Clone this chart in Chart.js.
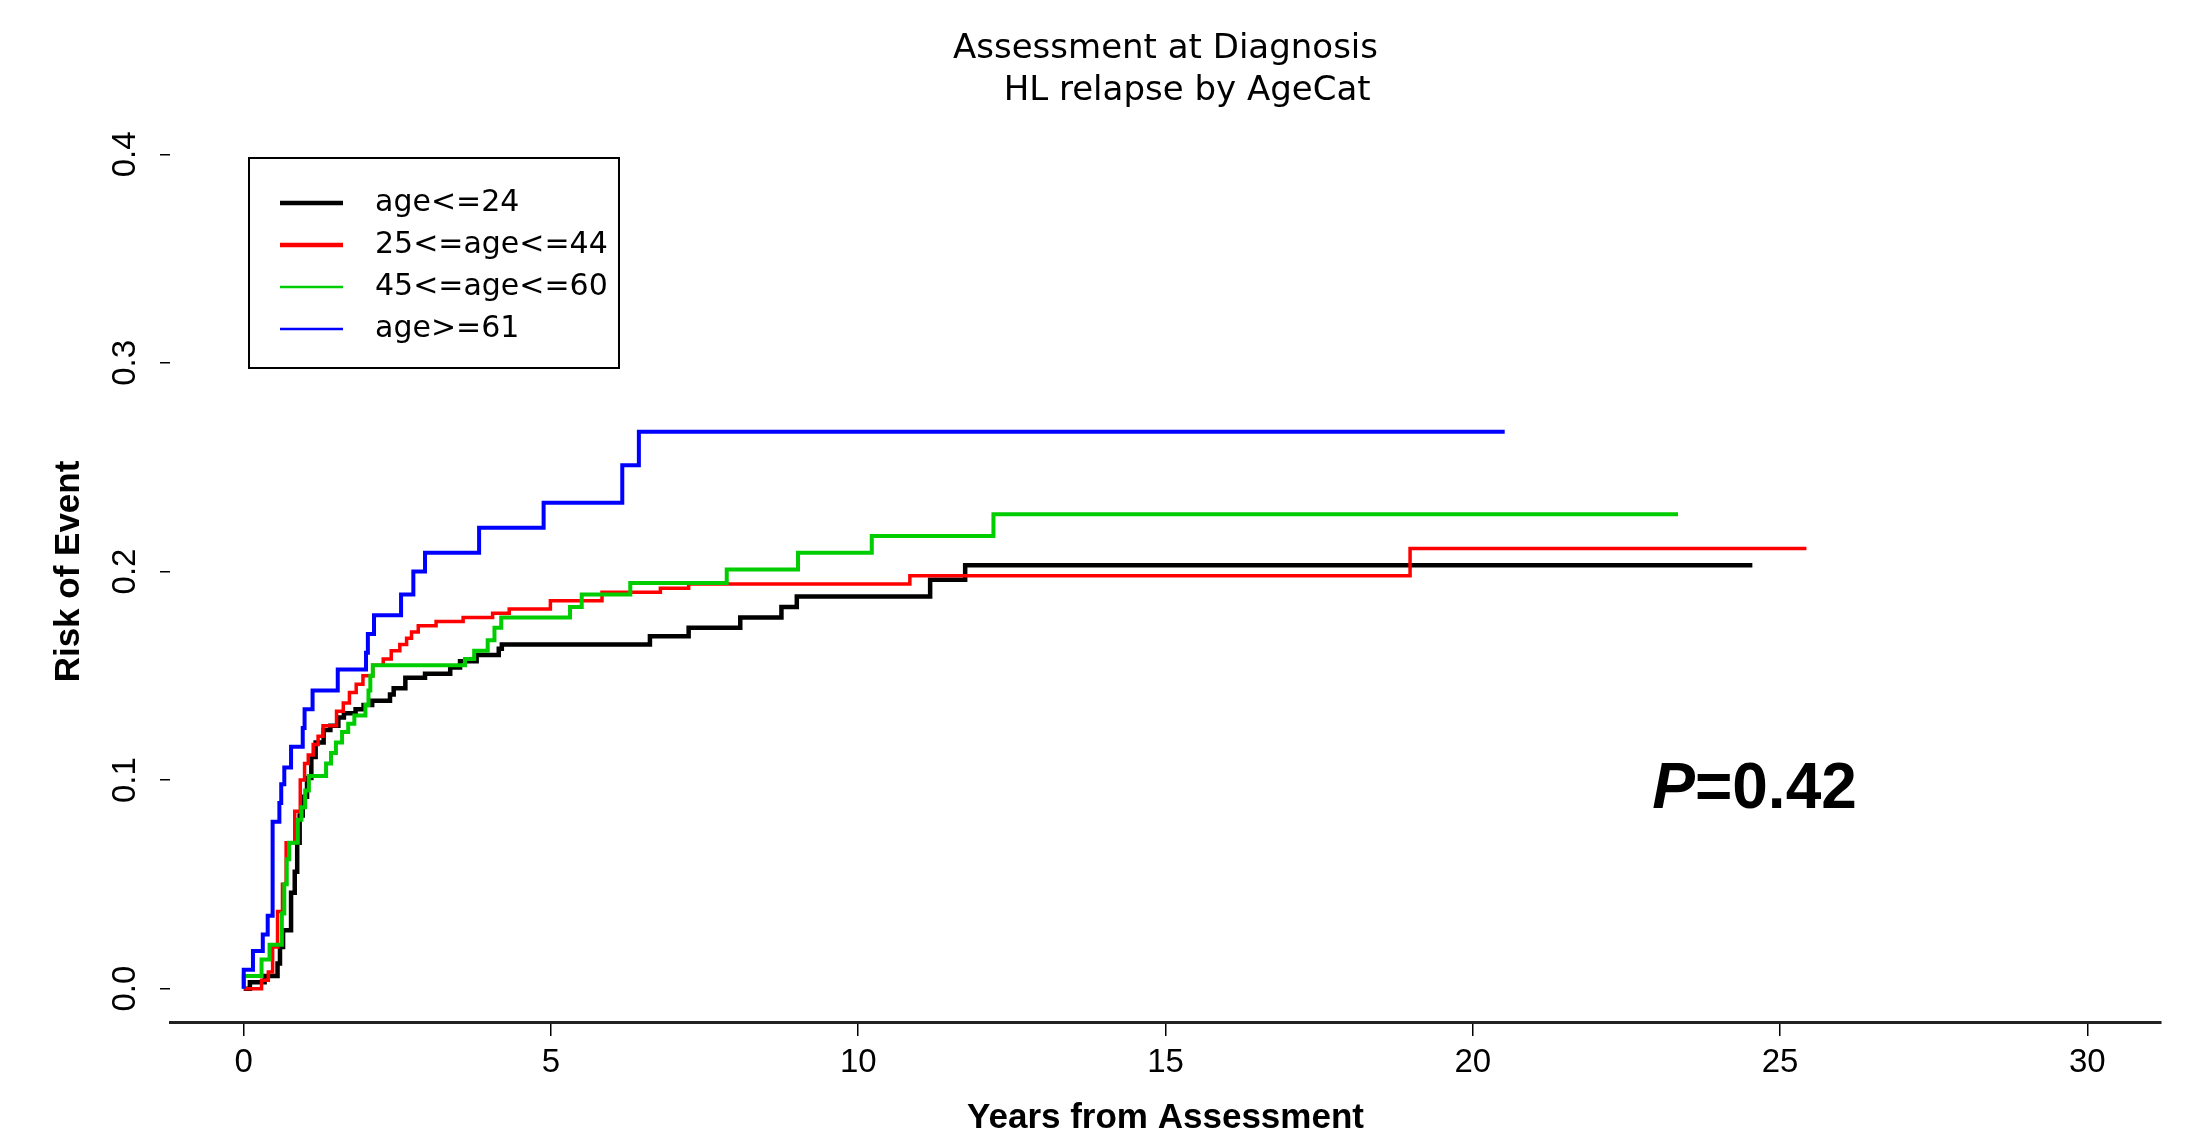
<!DOCTYPE html>
<html>
<head>
<meta charset="utf-8">
<script src="https://cdn.jsdelivr.net/npm/chart.js"></script>
<style>
html, body { margin: 0; padding: 0; background: #ffffff; }
#wrap { width: 2192px; height: 1136px; }
</style>
</head>
<body>
<div id="wrap"><canvas id="c" width="2192" height="1136"></canvas></div>
<script>
// ---------- text ----------
const chartTitle = ['Assessment at Diagnosis', '    HL relapse by AgeCat'];
const xAxisTitle = 'Years from Assessment';
const yAxisTitle = 'Risk of Event';
const pLetter = 'P';
const pRest = '=0.42';

// ---------- tick labels ----------
const xTickValues = [0, 5, 10, 15, 20, 25, 30];
const yTickValues = [0.0, 0.1, 0.2, 0.3, 0.4];

// ---------- categories ----------
const seriesLabels = ['age<=24', '25<=age<=44', '45<=age<=60', 'age>=61'];

// ---------- series values (cumulative risk, step function) ----------
const blackYears = [0, 0.10, 0.34, 0.55, 0.59, 0.64, 0.77, 0.83, 0.87, 0.91, 0.96, 1.03, 1.10, 1.17, 1.30, 1.41, 1.54, 1.63, 1.82, 1.95, 2.09, 2.38, 2.44, 2.63, 2.95, 3.36, 3.52, 3.79, 4.15, 4.20, 6.61, 7.24, 8.08, 8.75, 9.00, 11.17, 11.74, 24.55];
const blackRisk  = [0, 0.003, 0.006, 0.012, 0.020, 0.028, 0.046, 0.056, 0.070, 0.083, 0.092, 0.101, 0.111, 0.118, 0.124, 0.126, 0.130, 0.132, 0.134, 0.136, 0.138, 0.141, 0.144, 0.149, 0.151, 0.154, 0.157, 0.160, 0.163, 0.165, 0.169, 0.173, 0.178, 0.183, 0.188, 0.196, 0.203, 0.203];

const redYears = [0, 0.29, 0.40, 0.47, 0.55, 0.63, 0.69, 0.83, 0.92, 0.99, 1.05, 1.13, 1.21, 1.29, 1.51, 1.62, 1.72, 1.83, 1.94, 2.10, 2.27, 2.40, 2.54, 2.65, 2.73, 2.84, 3.13, 3.57, 4.05, 4.32, 4.99, 5.83, 6.78, 7.24, 10.84, 18.98, 25.43];
const redRisk  = [0, 0.004, 0.008, 0.020, 0.037, 0.050, 0.070, 0.085, 0.100, 0.108, 0.112, 0.117, 0.121, 0.126, 0.133, 0.137, 0.142, 0.146, 0.150, 0.155, 0.158, 0.162, 0.165, 0.168, 0.171, 0.174, 0.176, 0.178, 0.180, 0.182, 0.186, 0.190, 0.192, 0.194, 0.198, 0.211, 0.211];

const greenYears = [0, 0, 0.29, 0.42, 0.62, 0.66, 0.70, 0.74, 0.88, 0.94, 1.00, 1.06, 1.34, 1.42, 1.50, 1.60, 1.70, 1.80, 1.98, 2.03, 2.06, 2.10, 3.60, 3.75, 3.97, 4.08, 4.19, 5.31, 5.50, 6.29, 7.86, 9.02, 10.22, 12.20, 23.34];
const greenRisk  = [0, 0.006, 0.014, 0.021, 0.036, 0.050, 0.062, 0.070, 0.081, 0.087, 0.095, 0.102, 0.108, 0.113, 0.118, 0.123, 0.127, 0.131, 0.136, 0.143, 0.150, 0.155, 0.158, 0.162, 0.167, 0.173, 0.178, 0.183, 0.189, 0.1945, 0.201, 0.209, 0.217, 0.2275, 0.2275];

const blueYears = [0, 0, 0.15, 0.31, 0.39, 0.47, 0.58, 0.61, 0.66, 0.77, 0.96, 0.99, 1.12, 1.53, 1.99, 2.02, 2.12, 2.56, 2.76, 2.95, 3.83, 4.88, 6.16, 6.43, 20.52];
const blueRisk  = [0, 0.009, 0.018, 0.026, 0.035, 0.080, 0.089, 0.098, 0.106, 0.116, 0.125, 0.134, 0.143, 0.153, 0.161, 0.170, 0.179, 0.189, 0.200, 0.209, 0.221, 0.233, 0.251, 0.267, 0.267];

// ---------- styles ----------
const seriesColors = ['#000000', '#ff0000', '#00cd00', '#0000ff'];
const seriesWidths = [4.5, 3.5, 4, 4];
const legendWidths = [4.5, 4.5, 2.5, 2.5];
const tickFont = 'Liberation Sans, Arial, sans-serif';
const textFont = 'DejaVu Sans, sans-serif';

const toPoints = (xs, ys) => xs.map((x, i) => ({ x: x, y: ys[i] }));
const seriesData = [
  toPoints(blackYears, blackRisk),
  toPoints(redYears, redRisk),
  toPoints(greenYears, greenRisk),
  toPoints(blueYears, blueRisk)
];

const datasets = seriesLabels.map((lab, i) => ({
  label: lab,
  data: seriesData[i],
  borderColor: seriesColors[i],
  backgroundColor: seriesColors[i],
  borderWidth: seriesWidths[i],
  pointRadius: 0,
  stepped: 'before',
  fill: false,
  order: seriesLabels.length - 1 - i,
  borderCapStyle: 'butt',
  borderJoinStyle: 'miter'
}));

const legendBox = {
  id: 'legendBox',
  afterDraw(chart) {
    const ctx = chart.ctx;
    const a = chart.chartArea;
    const left = a.left + 79, top = a.top + 37, w = 370, h = 210;
    ctx.save();
    ctx.strokeStyle = '#000';
    ctx.lineWidth = 2;
    ctx.strokeRect(left, top, w, h);
    ctx.font = '30px ' + textFont;
    ctx.textBaseline = 'middle';
    ctx.textAlign = 'left';
    chart.data.datasets.forEach((ds, i) => {
      const y = top + 45 + i * 42;
      ctx.beginPath();
      ctx.strokeStyle = ds.borderColor;
      ctx.lineWidth = legendWidths[i];
      ctx.moveTo(left + 31, y);
      ctx.lineTo(left + 94, y);
      ctx.stroke();
      ctx.fillStyle = '#000';
      ctx.fillText(ds.label, left + 126, y);
    });
    ctx.restore();
  }
};

const pValue = {
  id: 'pValue',
  afterDraw(chart) {
    const ctx = chart.ctx;
    const x = chart.scales.x.getPixelForValue(22.92);
    const y = chart.scales.y.getPixelForValue(0.0866);
    ctx.save();
    ctx.fillStyle = '#000';
    ctx.textBaseline = 'alphabetic';
    ctx.textAlign = 'left';
    ctx.font = 'italic bold 64px ' + tickFont;
    ctx.fillText(pLetter, x, y);
    const w = ctx.measureText(pLetter).width;
    ctx.font = 'bold 64px ' + tickFont;
    ctx.fillText(pRest, x + w, y);
    ctx.restore();
  }
};

new Chart(document.getElementById('c'), {
  type: 'line',
  data: { datasets: datasets },
  plugins: [legendBox, pValue],
  options: {
    responsive: false,
    animation: false,
    devicePixelRatio: 1,
    layout: { padding: { left: 0, right: 31, top: 0, bottom: 0 } },
    plugins: {
      legend: { display: false },
      tooltip: { enabled: false },
      title: {
        display: true,
        text: chartTitle,
        fullSize: false,
        color: '#000',
        font: { family: textFont, size: 34, weight: 'normal', lineHeight: '42px' },
        padding: { top: 28, bottom: 9 }
      }
    },
    scales: {
      x: {
        type: 'linear',
        min: -1.2,
        max: 31.2,
        afterBuildTicks: (s) => { s.ticks = xTickValues.map(v => ({ value: v })); },
        afterFit: (s) => { s.height = 114; },
        grid: { display: true, drawOnChartArea: false, drawTicks: true, tickLength: 14, color: '#000', lineWidth: 1.5 },
        border: { display: true, color: '#222', width: 3 },
        ticks: { color: '#000', font: { family: tickFont, size: 33 }, padding: 7, maxRotation: 0, autoSkip: false },
        title: { display: true, text: xAxisTitle, color: '#000', font: { family: tickFont, size: 35, weight: 'bold', lineHeight: 1.0 }, padding: { top: 0, bottom: 0 } }
      },
      y: {
        type: 'linear',
        min: -0.016,
        max: 0.416,
        afterBuildTicks: (s) => { s.ticks = yTickValues.map(v => ({ value: v })); },
        afterFit: (s) => { s.width = 170; },
        grid: { display: true, drawOnChartArea: false, drawTicks: true, tickLength: 10, color: '#000', lineWidth: 1.5 },
        border: { display: false },
        ticks: { color: '#000', font: { family: tickFont, size: 33 }, minRotation: 90, maxRotation: 90, crossAlign: 'center', padding: 11, autoSkip: false, callback: (v) => Number(v).toFixed(1) },
        title: { display: true, text: yAxisTitle, color: '#000', font: { family: tickFont, size: 35, weight: 'bold' }, padding: { top: 48, bottom: 0 } }
      }
    }
  }
});
</script>
</body>
</html>
